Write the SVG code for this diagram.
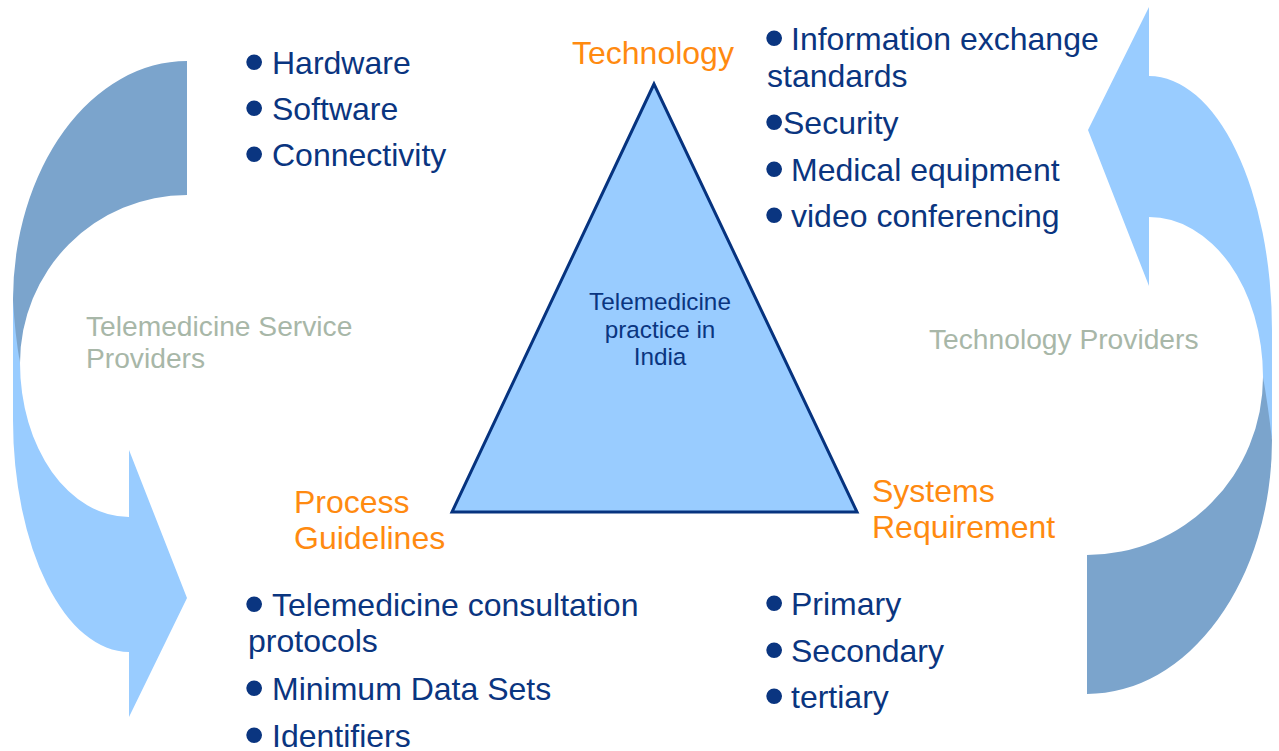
<svg xmlns="http://www.w3.org/2000/svg" width="1279" height="751" viewBox="0 0 1279 751">
<style>
text{font-family:"Liberation Sans",Arial,sans-serif}
.t{font-size:32px;fill:#0A3580}
.b{font-size:58px;fill:#0A3580}
.o{font-size:32px;fill:#FF8A10}
.g{font-size:28.2px;fill:#A8B7A8}
.c{font-size:24.3px;fill:#0A3580;text-anchor:middle}
.lt{fill:#99CCFF}
.dk{fill:#7BA4CC}
</style>
<rect width="1279" height="751" fill="#FFFFFF"/>
<g id="connectors">
<g id="left-arrow">
<path class="lt" d="M13,290 L13,420 A116,232 0 0 0 129,652 L129,717 L187,598 L129,450 L129,517 A109,154 0 0 1 20,363 L17,330 L13,290 Z"/>
<path class="dk" d="M187,61 A174,239 0 0 0 13,300 Q15,335 20,363 A167,168 0 0 1 187,195 Z"/>
</g>
<g id="right-arrow">
<path class="lt" d="M1149,7 L1088,130 L1149,286 L1149,217 A114,160 0 0 1 1263,377 L1266,420 L1272,440 L1272,330 A123,254 0 0 0 1149,76 Z"/>
<path class="dk" d="M1263,377 Q1268,405 1272,440 A185,254 0 0 1 1087,694 L1087,555 A176,178 0 0 0 1263,377 Z"/>
</g>
</g>
<g id="center">
<polygon points="654,84 452,512 857,512" fill="#99CCFF" stroke="#06337F" stroke-width="3" stroke-linejoin="miter"/>
<text class="c" x="660" y="310">Telemedicine</text>
<text class="c" x="660" y="338">practice in</text>
<text class="c" x="660" y="365">India</text>
</g>
<g id="technology">
<text class="o" x="572" y="64">Technology</text>
</g>
<g id="process">
<text class="o" x="294" y="513">Process</text>
<text class="o" x="294" y="549">Guidelines</text>
</g>
<g id="systems">
<text class="o" x="872" y="502">Systems</text>
<text class="o" x="872" y="538">Requirement</text>
</g>
<g id="service-providers">
<text class="g" x="86" y="336">Telemedicine Service</text>
<text class="g" x="86" y="368">Providers</text>
</g>
<g id="technology-providers">
<text class="g" x="929" y="349">Technology Providers</text>
</g>
<g id="list-top-left">
<text><tspan class="b" x="244" y="81">•</tspan><tspan class="t" x="272" y="74">Hardware</tspan></text>
<text><tspan class="b" x="244" y="127">•</tspan><tspan class="t" x="272" y="120">Software</tspan></text>
<text><tspan class="b" x="244" y="173">•</tspan><tspan class="t" x="272" y="166">Connectivity</tspan></text>
</g>
<g id="list-top-right">
<text><tspan class="b" x="764" y="57">•</tspan><tspan class="t" x="791" y="50">Information exchange</tspan></text>
<text class="t" x="767" y="87">standards</text>
<text><tspan class="b" x="764" y="141">•</tspan><tspan class="t" x="783" y="134">Security</tspan></text>
<text><tspan class="b" x="764" y="188">•</tspan><tspan class="t" x="791" y="181">Medical equipment</tspan></text>
<text><tspan class="b" x="764" y="234">•</tspan><tspan class="t" x="791" y="227">video conferencing</tspan></text>
</g>
<g id="list-bottom-left">
<text><tspan class="b" x="244" y="623">•</tspan><tspan class="t" x="272" y="616">Telemedicine consultation</tspan></text>
<text class="t" x="248" y="652">protocols</text>
<text><tspan class="b" x="244" y="707">•</tspan><tspan class="t" x="272" y="700">Minimum Data Sets</tspan></text>
<text><tspan class="b" x="244" y="754">•</tspan><tspan class="t" x="272" y="747">Identifiers</tspan></text>
</g>
<g id="list-bottom-right">
<text><tspan class="b" x="764" y="622">•</tspan><tspan class="t" x="791" y="615">Primary</tspan></text>
<text><tspan class="b" x="764" y="669">•</tspan><tspan class="t" x="791" y="662">Secondary</tspan></text>
<text><tspan class="b" x="764" y="715">•</tspan><tspan class="t" x="791" y="708">tertiary</tspan></text>
</g>
</svg>
